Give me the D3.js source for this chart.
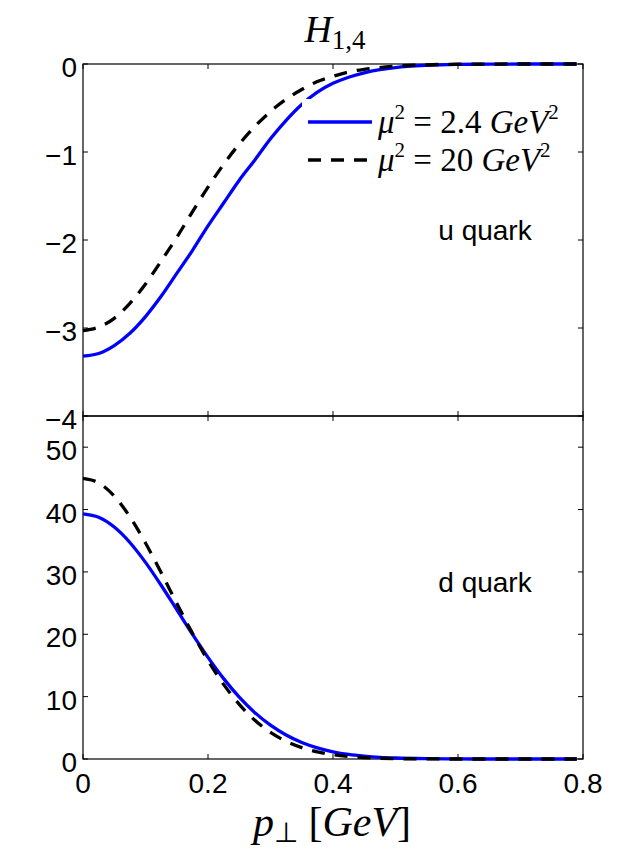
<!DOCTYPE html>
<html><head><meta charset="utf-8">
<script src="https://cdn.jsdelivr.net/npm/d3@7"></script>
<style>body{margin:0;background:#fff}</style>
</head><body>
<svg id="c" width="644" height="855" xmlns="http://www.w3.org/2000/svg"></svg>
<script>
// transverse momentum p_perp [GeV]
const pPerp = [0,0.025,0.05,0.075,0.1,0.125,0.15,0.175,0.2,0.225,0.25,0.275,0.3,0.325,0.35,0.375,0.4,0.425,0.45,0.475,0.5,0.55,0.6,0.65,0.7,0.75,0.79];
// u quark
const uLow  = [-3.32,-3.29,-3.20,-3.06,-2.87,-2.64,-2.38,-2.12,-1.84,-1.58,-1.32,-1.09,-0.85,-0.64,-0.46,-0.32,-0.22,-0.15,-0.10,-0.065,-0.04,-0.015,-0.005,-0.002,0,0,0];
const uHigh = [-3.03,-2.99,-2.89,-2.72,-2.50,-2.24,-1.97,-1.68,-1.40,-1.14,-0.91,-0.71,-0.54,-0.40,-0.29,-0.20,-0.14,-0.09,-0.06,-0.04,-0.025,-0.009,-0.003,-0.001,0,0,0];
// d quark
const dLow  = [39.3,38.76,37.19,34.72,31.53,27.86,23.95,20.02,16.29,12.89,9.92,7.43,5.42,3.84,2.64,1.78,1.16,0.73,0.46,0.27,0.16,0.05,0.01,0,0,0,0];
const dHigh = [45,44.27,42.15,38.84,34.64,29.89,24.97,20.19,15.80,11.96,8.77,6.21,4.27,2.84,1.82,1.13,0.68,0.40,0.22,0.12,0.06,0.02,0,0,0,0,0];
const xTicks = [0,0.2,0.4,0.6,0.8];
const xTickLabels = ["0","0.2","0.4","0.6","0.8"];
const uTicks = [0,-1,-2,-3,-4];
const uTickLabels = ["0","\u22121","\u22122","\u22123","\u22124"];
const dTicks = [0,10,20,30,40,50];
const dTickLabels = ["0","10","20","30","40","50"];

const svg = d3.select("#c");
const L = 83, R = 583, T1 = 64, M = 416, B2 = 759;
const x = d3.scaleLinear().domain([0,0.8]).range([L,R]);
const yU = d3.scaleLinear().domain([-4,0]).range([M,T1]);
const yD = d3.scaleLinear().domain([0,55]).range([B2,M]);
const tickFont = "'Liberation Sans', Arial, Helvetica, sans-serif";
const TL = 5;

function panel(y, top, bottom, ticks, labels) {
  const g = svg.append("g");
  g.append("rect").attr("x",L).attr("y",top).attr("width",R-L).attr("height",bottom-top)
    .attr("fill","none").attr("stroke","#000").attr("stroke-width",1.2);
  ticks.forEach((t,i)=>{
    const yy = y(t);
    g.append("line").attr("x1",L).attr("x2",L+TL).attr("y1",yy).attr("y2",yy).attr("stroke","#000").attr("stroke-width",1);
    g.append("line").attr("x1",R).attr("x2",R-TL).attr("y1",yy).attr("y2",yy).attr("stroke","#000").attr("stroke-width",1);
    g.append("text").attr("x",77).attr("y",yy+13).attr("text-anchor","end")
      .attr("font-family",tickFont).attr("font-size",28).text(labels[i]);
  });
  xTicks.forEach(t=>{
    const xx = x(t);
    g.append("line").attr("x1",xx).attr("x2",xx).attr("y1",bottom).attr("y2",bottom-TL).attr("stroke","#000").attr("stroke-width",1);
    g.append("line").attr("x1",xx).attr("x2",xx).attr("y1",top).attr("y2",top+TL).attr("stroke","#000").attr("stroke-width",1);
  });
  return g;
}
panel(yU, T1, M, uTicks, uTickLabels);
panel(yD, M, B2, dTicks, dTickLabels);

xTicks.forEach((t,i)=>{
  svg.append("text").attr("x",x(t)).attr("y",793).attr("text-anchor","middle")
    .attr("font-family",tickFont).attr("font-size",28).text(xTickLabels[i]);
});

function curve(y, vals, color, dash) {
  const line = d3.line().x((d,i)=>x(pPerp[i])).y(d=>y(d)).curve(d3.curveMonotoneX);
  svg.append("path").attr("d", line(vals)).attr("fill","none").attr("stroke",color)
    .attr("stroke-width",3.3).attr("stroke-dasharray",dash||null);
}
curve(yU, uLow, "#0000ff");
curve(yU, uHigh, "#000", "13,10");
curve(yD, dLow, "#0000ff");
curve(yD, dHigh, "#000", "13,10");

// legend
const serif = "'Liberation Serif', 'Times New Roman', serif";
svg.append("rect").attr("x",302).attr("y",99).attr("width",268).attr("height",82).attr("fill","#fff");
const legendItems = [
  {color:"#0000ff", dash:null, val:"2.4", y:122},
  {color:"#000", dash:"13,10", val:"20", y:160}
];
legendItems.forEach(it=>{
  svg.append("line").attr("x1",308).attr("x2",372).attr("y1",it.y).attr("y2",it.y)
    .attr("stroke",it.color).attr("stroke-width",3.3).attr("stroke-dasharray",it.dash);
  const t = svg.append("text").attr("x",378).attr("y",it.y+11).attr("font-family",serif).attr("font-size",33);
  t.append("tspan").attr("font-style","italic").text("\u03bc");
  t.append("tspan").attr("font-size",21).attr("dy",-14).text("2");
  t.append("tspan").attr("dy",14).text(" = " + it.val + " ");
  t.append("tspan").attr("font-style","italic").text("GeV");
  t.append("tspan").attr("font-size",21).attr("dy",-14).text("2");
});

svg.append("text").attr("x",485).attr("y",240).attr("text-anchor","middle")
  .attr("font-family",tickFont).attr("font-size",28).text("u quark");
svg.append("text").attr("x",485).attr("y",592).attr("text-anchor","middle")
  .attr("font-family",tickFont).attr("font-size",28).text("d quark");

// title
const title = svg.append("text").attr("x",335).attr("y",42).attr("text-anchor","middle").attr("font-family",serif);
title.append("tspan").attr("font-style","italic").attr("font-size",38).text("H");
title.append("tspan").attr("font-size",27).attr("dy",7).text("1,4");

// x label
const xl = svg.append("text").attr("x",332).attr("y",836).attr("text-anchor","middle").attr("font-family",serif).attr("font-size",42);
xl.append("tspan").attr("font-style","italic").text("p");
xl.append("tspan").attr("font-size",28).attr("dy",6).text("\u22a5");
xl.append("tspan").attr("dy",-6).text("  [");
xl.append("tspan").attr("font-style","italic").text("GeV");
xl.append("tspan").text("]");
</script>
</body></html>
